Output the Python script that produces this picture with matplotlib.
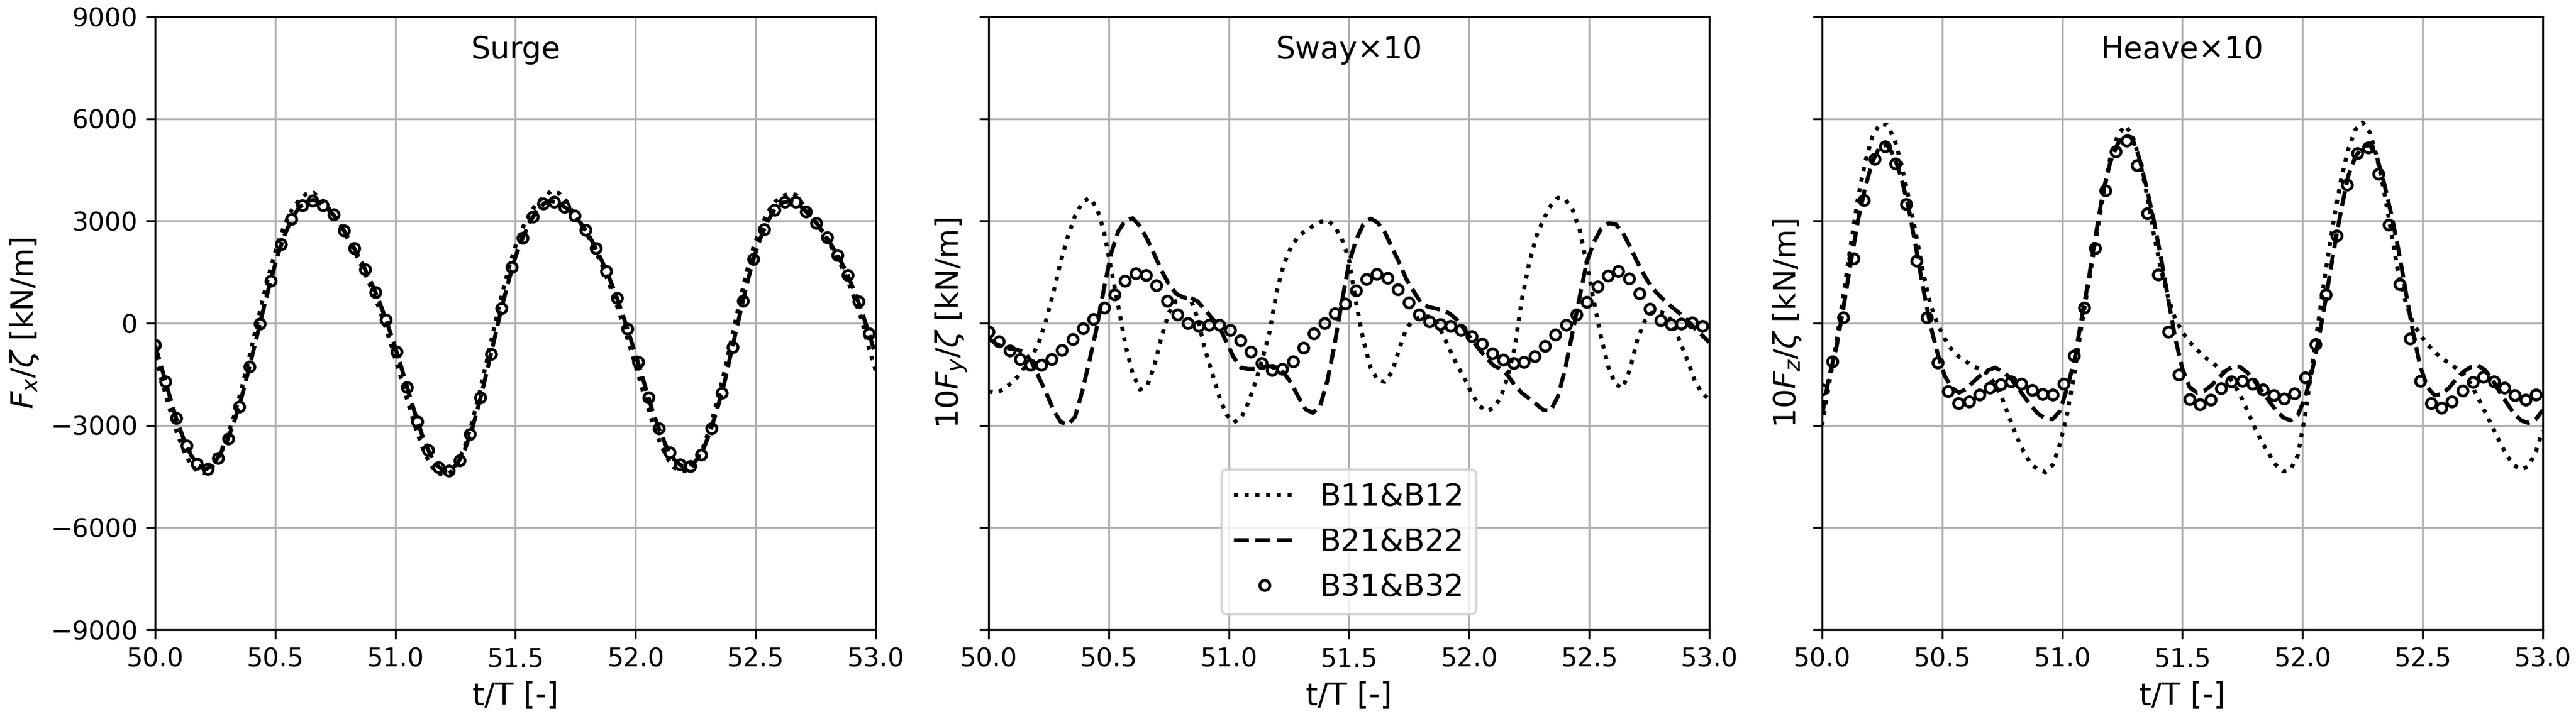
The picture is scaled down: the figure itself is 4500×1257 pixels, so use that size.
import numpy as np
import matplotlib.pyplot as plt

plt.rcParams['font.size'] = 12.9
plt.rcParams['xtick.labelsize'] = 10.8
plt.rcParams['ytick.labelsize'] = 10.8

# sampling grids (t/T)
t_line = np.round(50.0 + 0.03*np.arange(101), 2)
t_mark = 50.0 + 0.0437*np.arange(69)

# ---- Surge ----
surge_b11 = [-980, -1740, -2500, -3200, -3750, -4160, -4380, -4400, -4200, -3840,
             -3350, -2700, -1930, -1060, -150, 750, 1590, 2320, 2900, 3340,
             3620, 3800, 3830, 3640, 3400, 3110, 2760, 2380, 1970, 1520,
             1030, 490, -130, -800, -1520, -2270, -2970, -3600, -4080, -4390,
             -4450, -4380, -4100, -3600, -2900, -2050, -1130, -180, 740, 1560,
             2260, 2800, 3230, 3530, 3730, 3880, 3820, 3600, 3240, 2940,
             2590, 2170, 1700, 1160, 570, -80, -770, -1490, -2220, -2910,
             -3480, -3940, -4240, -4360, -4310, -4080, -3670, -3050, -2300, -1420,
             -450, 520, 1430, 2210, 2800, 3260, 3560, 3720, 3820, 3760,
             3450, 3150, 2870, 2540, 2180, 1780, 1310, 750, 130, -700,
             -1400]
surge_b21 = [-650, -1380, -2120, -2840, -3420, -3880, -4180, -4300, -4170, -3850,
             -3450, -2880, -2180, -1360, -500, 380, 1220, 1980, 2600, 3080,
             3400, 3570, 3620, 3520, 3340, 3120, 2790, 2440, 2060, 1640,
             1190, 700, 120, -500, -1170, -1900, -2600, -3250, -3770, -4150,
             -4330, -4320, -4100, -3700, -3100, -2320, -1450, -540, 380, 1200,
             1950, 2500, 2970, 3300, 3520, 3590, 3520, 3390, 3210, 2950,
             2650, 2260, 1830, 1340, 790, 180, -470, -1150, -1850, -2560,
             -3150, -3650, -4000, -4180, -4200, -4050, -3740, -3200, -2520, -1750,
             -800, 130, 1050, 1870, 2500, 2990, 3350, 3530, 3590, 3550,
             3350, 3120, 2880, 2580, 2240, 1880, 1460, 950, 380, -270,
             -950]
surge_b31 = [-631, -1720, -2781, -3600, -4124, -4285, -3963, -3385, -2458, -1276,
             -13, 1236, 2311, 3063, 3466, 3600, 3466, 3184, 2714, 2203,
             1585, 913, 107, -833, -1881, -2888, -3721, -4232, -4339, -4030,
             -3264, -2190, -900, 430, 1639, 2499, 3130, 3506, 3560, 3412,
             3157, 2740, 2203, 1531, 739, -161, -1142, -2176, -3090, -3788,
             -4151, -4191, -3855, -3090, -2042, -699, 658, 1881, 2754, 3331,
             3560, 3560, 3278, 2942, 2512, 2002, 1410, 645, -296]

# ---- Sway x10 ----
sway_b11 = [-2000, -2050, -1950, -1780, -1580, -1300, -1000, -550, 100, 900,
            1800, 2550, 3150, 3550, 3680, 3400, 2700, 1600, 500, -650,
            -1480, -1950, -1850, -1250, -400, 300, 650, 750, 720, 150,
            -750, -1450, -2150, -2680, -2910, -2800, -2350, -1750, -1050, -250,
            950, 1750, 2250, 2550, 2720, 2850, 2970, 3020, 2850, 2480,
            1880, 600, -500, -1300, -1680, -1720, -1420, -750, -140, 100,
            180, 200, 80, -320, -780, -1230, -1600, -2050, -2400, -2580,
            -2500, -2200, -1600, -720, 700, 1750, 2550, 3050, 3450, 3680,
            3640, 3350, 2750, 1750, 630, -420, -1290, -1800, -1900, -1350,
            -500, 50, 300, 330, 280, 0, -580, -1100, -1700, -2050,
            -2250]
sway_b21 = [-450, -600, -700, -750, -780, -850, -1150, -1600, -2050, -2550,
            -2900, -2980, -2750, -2000, -1100, -140, 1000, 2050, 2700, 3020,
            3080, 2850, 2470, 2020, 1540, 1150, 870, 760, 750, 640,
            400, 150, -100, -550, -1000, -1300, -1345, -1345, -1280, -1260,
            -1340, -1460, -1760, -2170, -2530, -2630, -2440, -1700, -640, 600,
            1750, 2450, 2900, 3070, 2950, 2660, 2210, 1770, 1280, 930,
            600, 480, 430, 380, 280, 100, -180, -470, -750, -1000,
            -1230, -1340, -1520, -1820, -2050, -2210, -2380, -2550, -2560, -2150,
            -1350, -300, 750, 1800, 2380, 2780, 2930, 2910, 2660, 2250,
            1800, 1400, 1050, 830, 620, 440, 270, 80, -150, -350,
            -560]
sway_b31 = [-252, -532, -812, -1064, -1232, -1232, -1064, -784, -465, -151,
            112, 448, 840, 1244, 1468, 1412, 1109, 661, 252, 0,
            -84, -56, -56, -207, -504, -840, -1176, -1373, -1345, -1120,
            -728, -308, 0, 280, 565, 952, 1289, 1440, 1328, 997,
            600, 252, 56, -28, -84, -196, -392, -605, -885, -1081,
            -1176, -1148, -969, -672, -336, -56, 252, 627, 1076, 1401,
            1524, 1317, 880, 420, 84, -28, -17, 11, -84]

# ---- Heave x10 ----
heave_b11 = [-3000, -1750, -550, 880, 2329, 3700, 4750, 5480, 5850, 5820,
             5434, 4670, 3700, 2650, 1520, 565, -20, -450, -780, -990,
             -1130, -1260, -1365, -1490, -1790, -2220, -2780, -3330, -3780, -4140,
             -4305, -4375, -4164, -3550, -2670, -1500, -70, 1200, 2470, 3720,
             4870, 5500, 5800, 5550, 4850, 3850, 2650, 1600, 776, 130,
             -260, -550, -776, -988, -1129, -1306, -1490, -1730, -2100, -2560,
             -3050, -3480, -3830, -4170, -4350, -4300, -3881, -2750, -1250, 250,
             1694, 3030, 4200, 5100, 5680, 5893, 5600, 4870, 3850, 2640,
             1400, 600, 0, -340, -620, -850, -1030, -1180, -1320, -1490,
             -1780, -2180, -2610, -3030, -3480, -3880, -4170, -4300, -4200, -3800,
             -3150]
heave_b21 = [-2700, -1550, -700, 500, 1800, 3035, 4000, 4750, 5180, 5240,
             4905, 4260, 3400, 2250, 1059, -30, -870, -1540, -1900, -2040,
             -1930, -1720, -1530, -1385, -1306, -1411, -1588, -1835, -2140, -2430,
             -2660, -2800, -2820, -2580, -1905, -1100, 120, 1300, 2620, 3880,
             4730, 5260, 5520, 5450, 4860, 4010, 3050, 1950, 750, -440,
             -1341, -1880, -2040, -1990, -1830, -1620, -1400, -1270, -1280, -1450,
             -1700, -1990, -2280, -2560, -2770, -2858, -2700, -2200, -1400, -353,
             850, 2130, 3300, 4320, 4890, 5190, 5230, 4870, 4100, 3180,
             2130, 917, -270, -1270, -1880, -2120, -2080, -1900, -1640, -1420,
             -1290, -1240, -1380, -1650, -2010, -2340, -2646, -2858, -2929, -2830,
             -2550]
heave_b31 = [-1941, -1129, 176, 1905, 3613, 4820, 5187, 4693, 3493, 1835,
             176, -1150, -1997, -2343, -2308, -2103, -1905, -1800, -1715, -1778,
             -1962, -2082, -2096, -1785, -953, 459, 2202, 3896, 5046, 5364,
             4637, 3225, 1426, -247, -1517, -2237, -2385, -2244, -1920, -1715,
             -1694, -1785, -1941, -2117, -2209, -2068, -1588, -621, 847, 2576,
             4072, 4989, 5152, 4390, 2893, 1143, -459, -1694, -2343, -2491,
             -2294, -1976, -1729, -1574, -1715, -1891, -2117, -2244, -2103]

titles = ['Surge', 'Sway×10', 'Heave×10']
ylabels = [r'$F_x/\zeta$ [kN/m]', r'$10F_y/\zeta$ [kN/m]', r'$10F_z/\zeta$ [kN/m]']
series = [(surge_b11, surge_b21, surge_b31),
          (sway_b11, sway_b21, sway_b31),
          (heave_b11, heave_b21, heave_b31)]

fig, axes = plt.subplots(1, 3, figsize=(15, 4.19), sharey=True)
fig.subplots_adjust(left=0.0602, right=0.9871, bottom=0.1241, top=0.9769, wspace=0.1565)

for i, ax in enumerate(axes):
    b11, b21, b31 = series[i]
    ax.plot(t_line, b11, 'k', ls=':', lw=1.7, label='B11&B12')
    ax.plot(t_line, b21, 'k', ls='--', lw=1.7, label='B21&B22')
    ax.plot(t_mark, b31, 'ko', ls='none', mfc='none', ms=4.2, mew=1.2, label='B31&B32')
    ax.text(0.5, 0.97, titles[i], transform=ax.transAxes, ha='center', va='top')
    ax.set_xlim(50, 53)
    ax.set_ylim(-9000, 9000)
    ax.set_xticks(np.arange(50, 53.01, 0.5))
    ax.set_yticks(np.arange(-9000, 9001, 3000))
    ax.tick_params(length=3.8)
    ax.set_xlabel('t/T [-]')
    ax.set_ylabel(ylabels[i])
    ax.grid()

axes[1].legend(loc='lower center')

fig.savefig('out.png', dpi=300)
